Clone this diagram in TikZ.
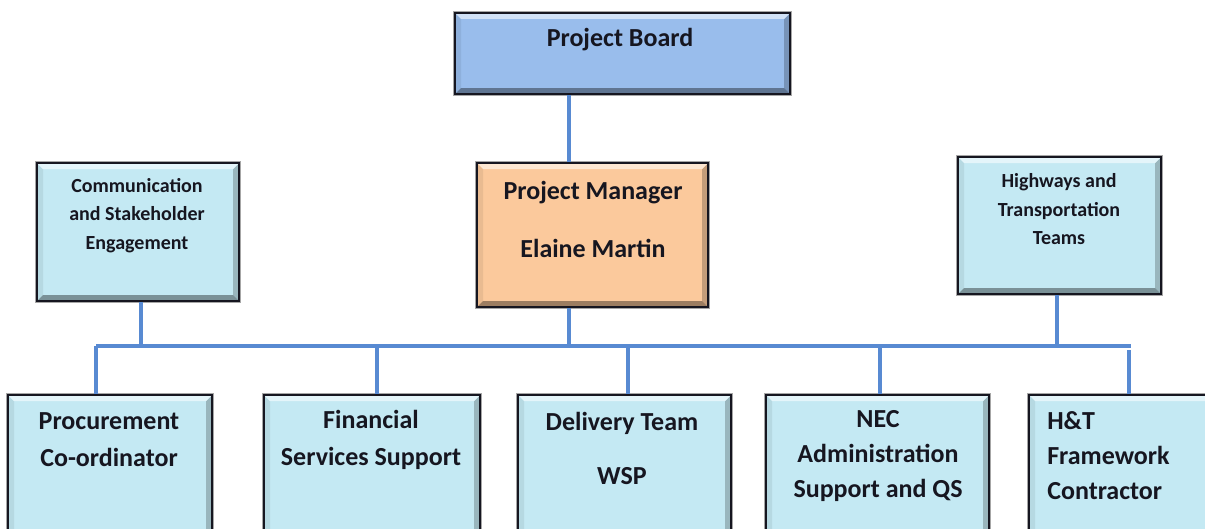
\documentclass[tikz,border=0pt]{standalone}
\usepackage{fontspec}
\setmainfont{Carlito}
\usetikzlibrary{calc,fit}

\definecolor{paleblue}{RGB}{196,233,243}
\definecolor{boardblue}{RGB}{153,189,236}
\definecolor{mgrorange}{RGB}{251,201,156}
\definecolor{linkblue}{RGB}{88,138,210}
\definecolor{ink}{RGB}{22,22,32}

\tikzset{
  % one unit = one pixel, y grows downwards
  x=0.75pt, y=-0.75pt,
  bevelbox/.style={rectangle, inner sep=0pt, fill=#1,
    preaction={draw=black!35, line width=3.4pt},
    draw=ink, line width=1.6pt,
    path picture={
      \path (path picture bounding box.north west) coordinate (bNW)
            (path picture bounding box.south east) coordinate (bSE)
            (bNW -| bSE) coordinate (bNE)
            (bSE -| bNW) coordinate (bSW);
      \fill[#1!93!black] (bNW) -- ($(bNW)+(6,6)$) -- ($(bSW)+(6,-6)$) -- (bSW) -- cycle;
      \fill[#1!78!black] (bNE) -- ($(bNE)+(-6,6)$) -- ($(bSE)+(-6,-6)$) -- (bSE) -- cycle;
      \fill[#1!45!white] (bNW) -- (bNE) -- ($(bNE)+(-6,6)$) -- ($(bNW)+(6,6)$) -- cycle;
      \fill[#1!62!black] (bSW) -- (bSE) -- ($(bSE)+(-6,-6)$) -- ($(bSW)+(6,-6)$) -- cycle;
    }},
  link/.style={draw=linkblue, line width=2.3pt},
  bigtext/.style={text=ink, align=center, inner sep=0pt,
    font=\bfseries\fontsize{19.5}{#1}\selectfont},
  smalltext/.style={text=ink, align=center, inner sep=0pt,
    font=\bfseries\fontsize{15}{21.4}\selectfont},
}

\begin{document}
\begin{tikzpicture}
\useasboundingbox (0,0) rectangle (1205,528);
\fill[white] (0,0) rectangle (1205,528);
\clip (0,0) rectangle (1205,528);

% boxes
\node[bevelbox=boardblue, fit={(455,13) (790,94)}] (pb) {};
\node[bevelbox=mgrorange, fit={(477,163) (708,307)}] (pm) {};
\node[bevelbox=paleblue, fit={(37,163) (239,301)}] (comm) {};
\node[bevelbox=paleblue, fit={(958,157) (1161,294)}] (hw) {};
\node[bevelbox=paleblue, fit={(8,395) (212,545)}] (proc) {};
\node[bevelbox=paleblue, fit={(264,395) (480,545)}] (fin) {};
\node[bevelbox=paleblue, fit={(518,395) (731,545)}] (del) {};
\node[bevelbox=paleblue, fit={(766,395) (989,545)}] (nec) {};
\node[bevelbox=paleblue, fit={(1029,395) (1230,545)}] (ht) {};

% box texts
\node[bigtext=26] (pbT) at (620,40) {Project Board};
\node[bigtext=43.5] (pmT) at (593,219) {Project Manager\\Elaine Martin};
\node[smalltext] (commT) at (137,215.5) {Communication\\and Stakeholder\\Engagement};
\node[smalltext] (hwT) at (1059,209.5) {Highways and\\Transportation\\Teams};
\node[bigtext=27.75] (procT) at (109,439.5) {Procurement\\Co-ordinator};
\node[bigtext=27.75] (finT) at (371,439.5) {Financial\\Services Support};
\node[bigtext=40.5] (delT) at (622,448) {Delivery Team\\WSP};
\node[bigtext=26.25] (necT) at (878,456) {NEC\\Administration\\Support and QS};
\node[bigtext=26.25, align=left, anchor=west] (htT) at (1047,456) {H\&T\\Framework\\Contractor};

% junctions on the distribution line
\coordinate (busL) at (96,346);
\coordinate (busR) at (1131,346);
\coordinate (jPM) at (569,346);
\coordinate (jC) at (141,348);
\coordinate (jH) at (1057,346);
\coordinate (jF) at (377,346);
\coordinate (jD) at (628,346);
\coordinate (jN) at (880,346);
\coordinate (jT) at (1129,350);

% connectors
\draw[link] (pb.south -| jPM) -- (pm.north -| jPM);
\draw[link] (pm.south -| jPM) -- (jPM);
\draw[link] (comm.south -| jC) -- (jC);
\draw[link] (hw.south -| jH) -- (jH);
\draw[link] (busL) -- (busR);
\draw[link] (busL) -- (proc.north -| busL);
\draw[link] (jF) -- (fin.north -| jF);
\draw[link] (jD) -- (del.north -| jD);
\draw[link] (jN) -- (nec.north -| jN);
\draw[link] (jT) -- (ht.north -| jT);
\end{tikzpicture}
\end{document}
